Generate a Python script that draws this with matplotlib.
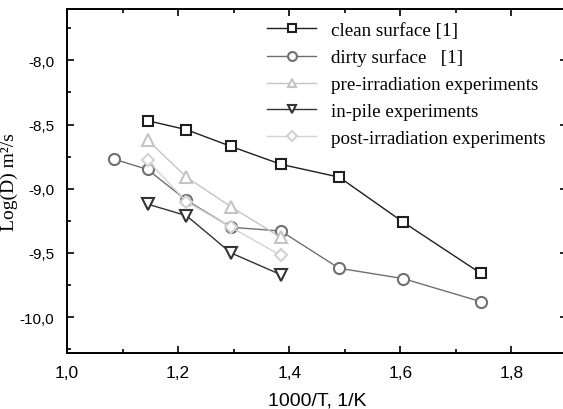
import matplotlib
matplotlib.use("Agg")
import matplotlib.pyplot as plt
from matplotlib.ticker import MultipleLocator, FuncFormatter

# dati
x_clean = [1.145, 1.215, 1.295, 1.385, 1.49, 1.605, 1.745]
y_clean = [-8.47, -8.54, -8.67, -8.81, -8.91, -9.26, -9.66]

x_dirty = [1.085, 1.145, 1.215, 1.295, 1.385, 1.49, 1.605, 1.745]
y_dirty = [-8.77, -8.85, -9.09, -9.30, -9.33, -9.62, -9.70, -9.88]

x_exp = [1.145, 1.215, 1.295, 1.385]
y_pre = [-8.62, -8.91, -9.14, -9.38]
y_inpile = [-9.12, -9.21, -9.50, -9.67]
y_post = [-8.78, -9.10, -9.30, -9.52]

etichette = ['clean surface [1]', 'dirty surface   [1]', 'pre-irradiation experiments',
             'in-pile experiments', 'post-irradiation experiments']

fig = plt.figure(figsize=(5.63, 4.10), dpi=100)
ax = fig.add_axes([0.119, 0.1366, 0.888, 0.839])

stile = dict(markersize=7, markerfacecolor='white', markeredgewidth=1.5, linewidth=1.0)
ax.plot(x_clean, y_clean, marker='s', color='#1e1e1e', label=etichette[0], **stile)
ax.plot(x_dirty, y_dirty, marker='o', color='#707070', label=etichette[1],
        **{**stile, 'markersize': 8})
ax.plot(x_exp, y_pre, marker='^', color='#c4c4c4', label=etichette[2],
        **{**stile, 'markersize': 8})
ax.plot(x_exp, y_inpile, marker='v', color='#333333', label=etichette[3],
        **{**stile, 'markersize': 8})
ax.plot(x_exp, y_post, marker='D', color='#d2d2d2', label=etichette[4],
        **{**stile, 'markersize': 6})

ax.set_xlim(1.0, 1.9)
ax.set_ylim(-10.28, -7.6)
ax.xaxis.set_major_locator(MultipleLocator(0.2))
ax.xaxis.set_minor_locator(MultipleLocator(0.1))
ax.yaxis.set_major_locator(MultipleLocator(0.5))
ax.yaxis.set_minor_locator(MultipleLocator(0.25))
virgola = FuncFormatter(lambda v, p: f"{v:.1f}".replace('.', ','))
ax.xaxis.set_major_formatter(virgola)
ax.yaxis.set_major_formatter(virgola)
ax.tick_params(which='both', direction='in', top=True, right=True, width=1.2)
ax.tick_params(which='major', length=5)
ax.tick_params(which='minor', length=3)
ax.tick_params(axis='x', which='major', labelsize=12.5, pad=9)
ax.tick_params(axis='y', which='major', labelsize=11, pad=9)
for lab in ax.get_xticklabels() + ax.get_yticklabels():
    lab.set_fontfamily('Liberation Sans')
for s in ax.spines.values():
    s.set_linewidth(1.4)

ax.set_xlabel('1000/T, 1/K', fontsize=14, family='Liberation Sans', labelpad=8)
ax.set_ylabel('Log(D) m²/s', fontsize=14, family='Liberation Serif')
ax.yaxis.set_label_coords(-0.099, 0.5)

leg = ax.legend(loc='upper left', frameon=False, handlelength=2.6, markerscale=0.8,
                prop={'family': 'Liberation Serif', 'size': 13.7},
                borderaxespad=0, borderpad=0, labelspacing=0.5, handletextpad=0.75,
                bbox_to_anchor=(0.4, 0.963))

plt.savefig('out.png', dpi=100)
